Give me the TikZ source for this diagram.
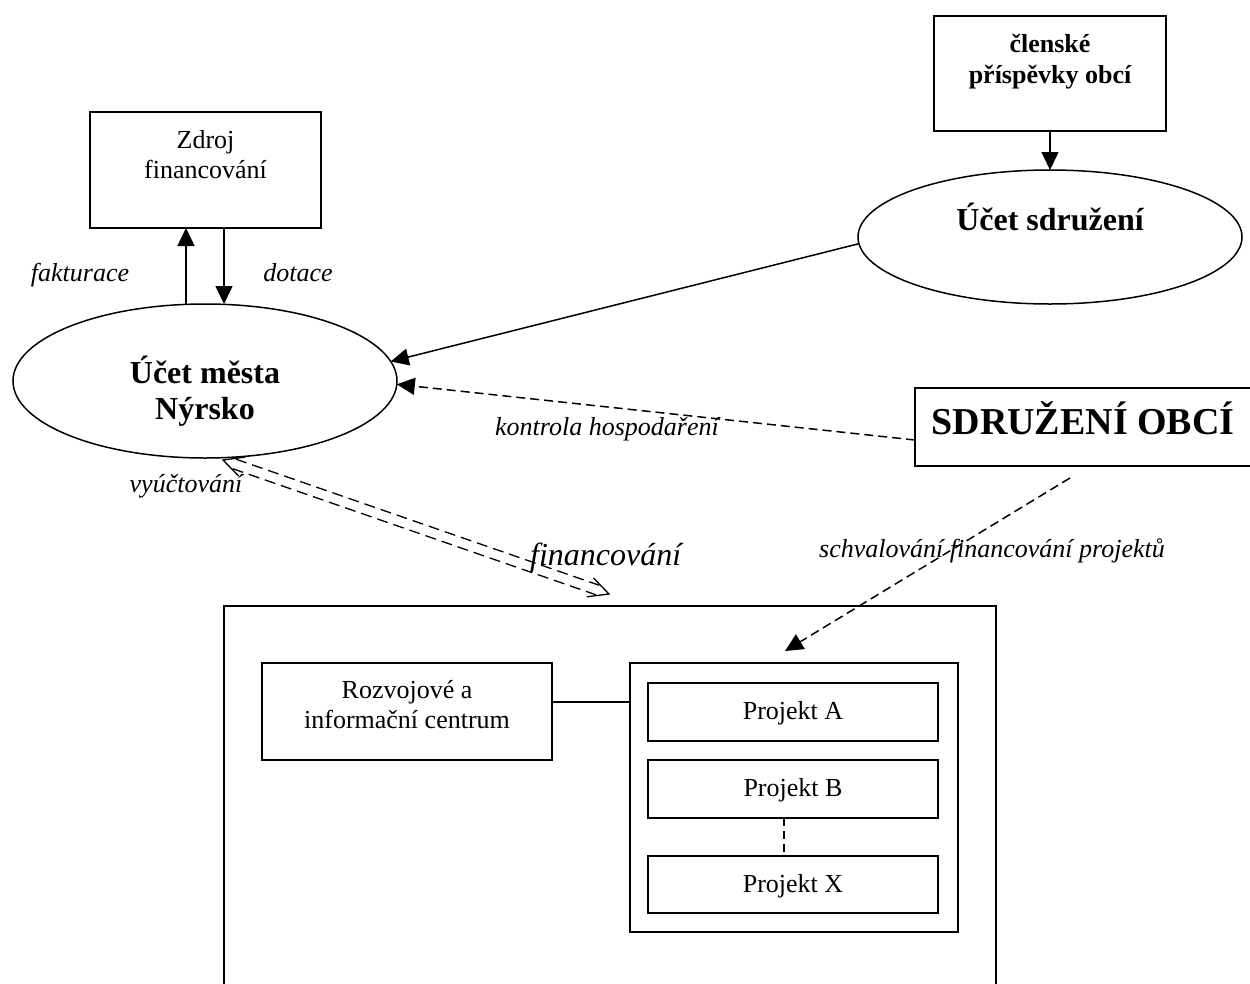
\documentclass[tikz,border=0pt]{standalone}
\usepackage{fontspec}
\setmainfont{Liberation Serif}
\usetikzlibrary{shapes.geometric,arrows.meta,calc}
\begin{document}
\begin{tikzpicture}[x=1pt,y=-1pt,
  lw/.style={line width=1.5pt},
  boxn/.style={draw,lw,rectangle,inner sep=0pt,outer sep=0pt},
  elln/.style={draw,lw,ellipse,inner sep=0pt,outer sep=0pt},
  arr/.style={lw,-{Triangle[length=18pt,width=17pt]}},
  dsh/.style={lw,dash pattern=on 9pt off 5pt},
  dbl/.style={line width=1.3pt,dash pattern=on 11pt off 6pt},
  tn/.style={font=\fontsize{26}{30}\selectfont,inner sep=0pt,anchor=base},
  tb/.style={font=\fontsize{26}{30}\selectfont\bfseries,inner sep=0pt,anchor=base},
  tbb/.style={font=\fontsize{32}{36}\selectfont\bfseries,inner sep=0pt,anchor=base},
  tit/.style={font=\fontsize{26}{30}\selectfont\itshape,inner sep=0pt,anchor=base}]
\useasboundingbox[fill=white] (0,0) rectangle (1250,983);

% boxes
\node[boxn,minimum width=231pt,minimum height=116pt] (zdroj) at (205.5,170) {};
\node[tn] (zdroj1) at (205.5,148) {Zdroj};
\node[tn] (zdroj2) at (205.5,178) {financování};

\node[boxn,minimum width=232pt,minimum height=115pt] (clen) at (1050,73.5) {};
\node[tb] (clen1) at (1050,52) {členské};
\node[tb] (clen2) at (1050,83) {příspěvky obcí};

\node[elln,minimum width=384pt,minimum height=154pt] (mesto) at (205,381) {};
\node[tbb] (mesto1) at (205,383) {Účet města};
\node[tbb] (mesto2) at (205,419) {Nýrsko};

\node[elln,minimum width=384pt,minimum height=134pt] (sdruzeni) at (1050,237) {};
\node[tbb] (sdruzeni1) at (1050,230) {Účet sdružení};

\node[boxn,minimum width=337pt,minimum height=78pt] (obce) at (1083.5,427) {};
\node[font=\fontsize{38}{42}\selectfont\bfseries,inner sep=0pt,anchor=base] (obce1) at (1083,434) {SDRUŽENÍ OBCÍ};

\node[boxn,minimum width=772pt,minimum height=384pt] (outer) at (610,798) {};
\node[boxn,minimum width=290pt,minimum height=97pt] (rozv) at (407,711.5) {};
\node[tn] (rozv1) at (407,698) {Rozvojové a};
\node[tn] (rozv2) at (407,728) {informační centrum};

\node[boxn,minimum width=328pt,minimum height=269pt] (inner) at (794,797.5) {};
\node[boxn,minimum width=290pt,minimum height=58pt] (pA) at (793,712) {};
\node[tn] (pA1) at (793,719) {Projekt A};
\node[boxn,minimum width=290pt,minimum height=58pt] (pB) at (793,789) {};
\node[tn] (pB1) at (793,796) {Projekt B};
\node[boxn,minimum width=290pt,minimum height=57pt] (pX) at (793,884.5) {};
\node[tn] (pX1) at (793,892) {Projekt X};

% connectors
\draw[arr] (clen.south) -- (sdruzeni.north);
\draw[arr] ([xshift=-19pt]mesto.north) -- ([xshift=-19.5pt]zdroj.south);
\draw[arr] ([xshift=18.5pt]zdroj.south) -- ([xshift=19pt]mesto.north);
\draw[arr] (sdruzeni.182) -- (mesto.6);
\draw[dsh,-{Triangle[length=18pt,width=17pt]}] ([yshift=-13pt]obce.west) -- (mesto.-1);
\draw[dsh,-{Triangle[length=18pt,width=17pt]}] ([xshift=-13.5pt,yshift=-12pt]obce.south) -- ([xshift=-9pt,yshift=12pt]inner.north);
\draw[lw] ([yshift=9.5pt]rozv.east) -- ([yshift=9.5pt]rozv.east -| inner.west);
\draw[lw,dash pattern=on 8pt off 5pt] ([xshift=-9pt]pB.south) -- ([xshift=-9pt]pX.north);

% double dashed arrow (vyuctovani / financovani)
\coordinate (P1) at (223,460);
\coordinate (P2) at (609,594);
\draw[dbl] (236.0,459.2) -- (599.3,585.3);
\draw[dbl] (232.7,468.7) -- (596.0,594.8);
\draw[line width=1.3pt] (245.2,457.1) -- (P1) -- (238.6,476.0);
\draw[line width=1.3pt] (593.4,577.9) -- (P2) -- (586.8,596.8);

% labels
\node[tit] (fak) at (80,281) {fakturace};
\node[tit] (dot) at (298,281) {dotace};
\node[tit] (kon) at (607,435) {kontrola hospodaření};
\node[tit] (vyu) at (186,492) {vyúčtování};
\node[font=\fontsize{32}{36}\selectfont\itshape,inner sep=0pt,anchor=base west] (fin) at (530,565) {financování};
\node[tit,anchor=base west] (sch) at (819,557) {schvalování financování projektů};
\end{tikzpicture}
\end{document}
